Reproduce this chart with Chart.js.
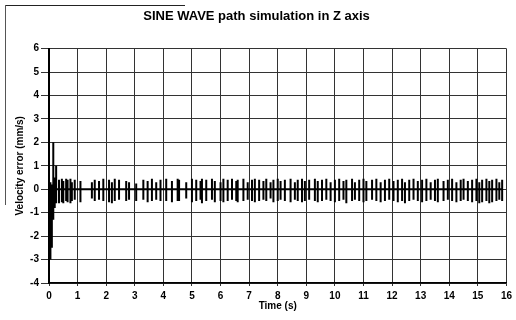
<!DOCTYPE html>
<html>
<head>
<meta charset="utf-8">
<script src="https://cdn.jsdelivr.net/npm/chart.js@4/dist/chart.umd.min.js"></script>
<style>
  html, body { margin: 0; padding: 0; background: #fff; }
  #wrap { position: relative; width: 516px; height: 320px; }
  #frameTop { position: absolute; left: 5px; top: 5px; width: 180px; border-top: 1px solid #222; }
  #frameLeft { position: absolute; left: 5px; top: 5px; height: 200px; border-left: 1px solid #555; }
</style>
</head>
<body>
<div id="wrap">
  <canvas id="chart" width="516" height="320"></canvas>
  <div id="frameTop"></div>
  <div id="frameLeft"></div>
</div>
<script>
// times of each oscillation burst (s)
const burstTime = [
  0.0, 0.05, 0.1, 0.15, 0.2, 0.25,
  0.35, 0.45, 0.5, 0.6, 0.65, 0.75, 0.8, 0.9,
  1.1, 1.5, 1.6, 1.75, 1.9,
  2.1, 2.2, 2.3, 2.45, 2.7, 2.8,
  3.05, 3.3, 3.45, 3.6, 3.75, 3.9,
  4.1, 4.3, 4.5, 4.55, 4.8,
  5.0, 5.15, 5.3, 5.35, 5.5, 5.7, 5.8,
  6.0, 6.1, 6.25, 6.4, 6.55, 6.6, 6.8, 6.95,
  7.1, 7.2, 7.35, 7.5, 7.6, 7.75, 7.85,
  8.0, 8.1, 8.25, 8.45, 8.6, 8.7, 8.85, 8.95,
  9.1, 9.3, 9.4, 9.55, 9.7, 9.85,
  10.0, 10.15, 10.3, 10.4, 10.6, 10.7, 10.85,
  11.0, 11.1, 11.3, 11.45, 11.6, 11.75, 11.9,
  12.05, 12.2, 12.35, 12.45, 12.6, 12.75, 12.9,
  13.05, 13.2, 13.35, 13.5, 13.6, 13.8, 13.95,
  14.1, 14.25, 14.4, 14.5, 14.65, 14.8, 14.95,
  15.05, 15.15, 15.3, 15.4, 15.5, 15.65, 15.75, 15.85
];

// peak velocity error in each burst (mm/s)
const burstHigh = [
  0.0, 0.3, 0.2, 2.0, 0.5, 1.0,
  0.4, 0.45, 0.35, 0.45, 0.4, 0.45, 0.3, 0.4,
  0.35, 0.3, 0.4, 0.35, 0.45,
  0.4, 0.3, 0.45, 0.4, 0.35, 0.3,
  0.25, 0.4, 0.35, 0.45, 0.3, 0.4,
  0.45, 0.35, 0.45, 0.4, 0.3,
  0.45, 0.4, 0.35, 0.45, 0.4, 0.45, 0.35,
  0.3, 0.45, 0.4, 0.45, 0.35, 0.4, 0.45, 0.3,
  0.4, 0.45, 0.4, 0.35, 0.45, 0.3, 0.4,
  0.45, 0.35, 0.4, 0.45, 0.3, 0.4, 0.45, 0.35,
  0.4, 0.45, 0.35, 0.4, 0.45, 0.3,
  0.4, 0.45, 0.35, 0.4, 0.45, 0.3, 0.4,
  0.45, 0.35, 0.4, 0.45, 0.3, 0.4, 0.45,
  0.35, 0.4, 0.45, 0.3, 0.4, 0.45, 0.35,
  0.4, 0.45, 0.3, 0.4, 0.45, 0.35, 0.4,
  0.45, 0.3, 0.4, 0.45, 0.35, 0.4, 0.45,
  0.3, 0.4, 0.45, 0.35, 0.4, 0.45, 0.3, 0.4
];

// trough velocity error in each burst (mm/s)
const burstLow = [
  -4.0, -3.0, -2.5, -1.3, -0.8, -0.6,
  -0.6, -0.55, -0.6, -0.5, -0.55, -0.6, -0.5, -0.45,
  -0.55, -0.4, -0.5, -0.45, -0.5,
  -0.55, -0.6, -0.5, -0.45, -0.5, -0.45,
  -0.5, -0.45, -0.55, -0.5, -0.45, -0.5,
  -0.5, -0.55, -0.5, -0.5, -0.4,
  -0.55, -0.5, -0.45, -0.6, -0.5, -0.45, -0.55,
  -0.5, -0.55, -0.5, -0.45, -0.5, -0.55, -0.5, -0.45,
  -0.5, -0.55, -0.5, -0.45, -0.5, -0.4, -0.55,
  -0.5, -0.45, -0.5, -0.55, -0.45, -0.5, -0.55, -0.5,
  -0.45, -0.5, -0.55, -0.5, -0.45, -0.5,
  -0.55, -0.5, -0.45, -0.6, -0.5, -0.45, -0.5,
  -0.55, -0.5, -0.45, -0.5, -0.55, -0.5, -0.45,
  -0.5, -0.55, -0.5, -0.6, -0.5, -0.45, -0.5,
  -0.55, -0.5, -0.45, -0.5, -0.55, -0.5, -0.45,
  -0.5, -0.55, -0.5, -0.45, -0.5, -0.55, -0.5,
  -0.6, -0.55, -0.5, -0.6, -0.55, -0.5, -0.45, -0.5
];

const xTicks = [0, 1, 2, 3, 4, 5, 6, 7, 8, 9, 10, 11, 12, 13, 14, 15, 16];
const yTicks = [-4, -3, -2, -1, 0, 1, 2, 3, 4, 5, 6];

// each burst: up to the peak, down to the trough, back to zero
const points = [];
burstTime.forEach((t, i) => {
  points.push({ x: t, y: 0 }, { x: t, y: burstHigh[i] }, { x: t, y: burstLow[i] }, { x: t, y: 0 });
});

const font = { family: '"Liberation Sans", Arial, sans-serif', size: 10, weight: 'bold' };

new Chart(document.getElementById('chart'), {
  type: 'line',
  data: {
    datasets: [{
      data: points,
      borderColor: '#000',
      borderWidth: 2,
      pointRadius: 0,
      tension: 0
    }]
  },
  options: {
    responsive: false,
    animation: false,
    layout: { padding: { left: 0, right: 3, top: 0, bottom: 0 } },
    plugins: {
      legend: { display: false },
      tooltip: { enabled: false },
      title: {
        display: true,
        text: 'SINE WAVE path simulation in Z axis',
        color: '#000',
        font: { family: '"Liberation Sans", Arial, sans-serif', size: 13, weight: 'bold' },
        padding: { top: 9, bottom: 24 }
      }
    },
    scales: {
      x: {
        type: 'linear',
        min: xTicks[0],
        max: xTicks[xTicks.length - 1],
        afterBuildTicks: s => { s.ticks = xTicks.map(v => ({ value: v })); },
        afterFit: s => { s.height = 37; },
        ticks: { color: '#000', font, padding: 4, maxRotation: 0, autoSkip: false },
        grid: { color: '#333', lineWidth: 1, tickLength: 3 },
        border: { color: '#000', width: 1.5 },
        title: {
          display: true,
          text: 'Time (s)',
          color: '#000',
          font,
          padding: { top: 0, bottom: 8 }
        }
      },
      y: {
        min: yTicks[0],
        max: yTicks[yTicks.length - 1],
        afterBuildTicks: s => { s.ticks = yTicks.map(v => ({ value: v })); },
        afterFit: s => { s.width = 49; },
        ticks: { color: '#000', font, padding: 2 },
        grid: { color: '#333', lineWidth: 1, tickLength: 8 },
        border: { color: '#000', width: 2 },
        title: {
          display: true,
          text: 'Velocity error (mm/s)',
          color: '#000',
          font,
          padding: { top: 14, bottom: 0 }
        }
      }
    }
  }
});
</script>
</body>
</html>
